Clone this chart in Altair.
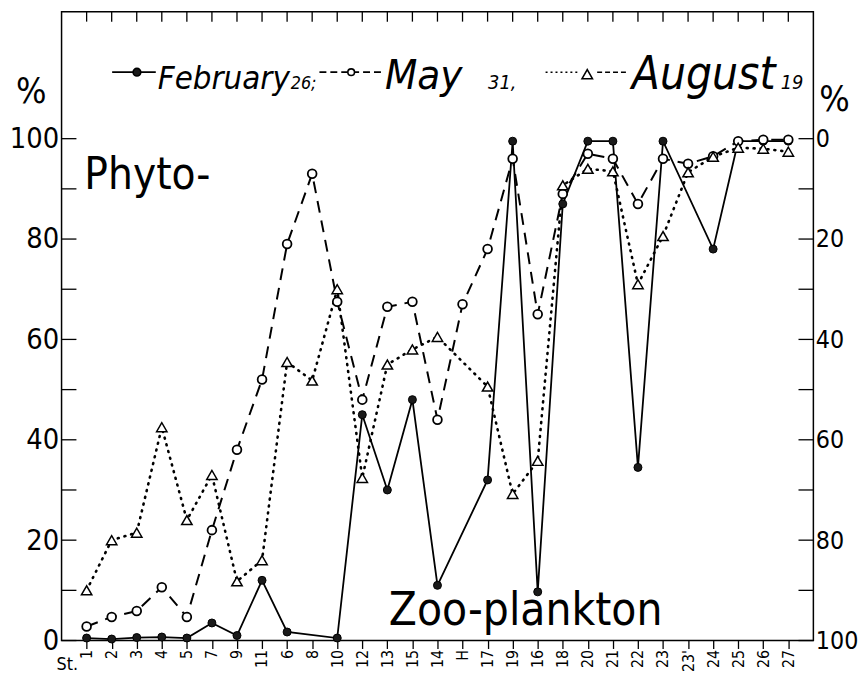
import altair as alt
import pandas as pd

# ---------------- data ----------------
stations = ["1", "2", "3", "4", "5", "7", "9", "11", "6", "8", "10", "12", "13", "15",
            "14", "H", "17", "19", "16", "18", "20", "21", "22", "23", "23'", "24",
            "25", "26", "27"]
feb = [0.5, 0.3, 0.6, 0.7, 0.5, 3.5, 1.0, 12, 1.7, None, 0.5, 45, 30, 48,
       11, None, 32, 99.5, 9.7, 87, 99.5, 99.5, 34.5, 99.5, None, 78,
       99.5, 99.5, 99.5]
may = [2.8, 4.7, 5.9, 10.6, 4.7, 22, 38, 52, 79, 93, 67.5, 48, 66.5, 67.5,
       44, 67, 78, 96, 65, 89, 97, 96, 87, 96, 95, 96.5,
       99.5, 99.8, 99.8]
aug = [10, 20, 21.5, 42.5, 24, 33, 11.8, 16, 55.5, 51.8, 70, 32.4, 55, 58,
       60.5, None, 50.6, 29.2, 35.8, 90.7, 94, 93.5, 71, 80.6, 93.3, 96.4,
       98.2, 98, 97.4]
y_ticks = [0, 10, 20, 30, 40, 50, 60, 70, 80, 90, 100]
y_labels = [0, 20, 40, 60, 80, 100]


def series(vals):
    rows = [(i, v) for i, v in enumerate(vals) if v is not None]
    return pd.DataFrame({"idx": [r[0] for r in rows], "value": [r[1] for r in rows]})


FONT = "DejaVu Sans Condensed, Liberation Sans Narrow, sans-serif"
W, H = 758, 634
YMAX = 125.3
one = pd.DataFrame({"a": [0]})

label_arr = "[" + ",".join("'" + s.replace("'", "\\'") + "'" for s in stations) + "]"

xscale = alt.Scale(domain=[-1, len(stations)], nice=False, zero=False)
x_axis = alt.Axis(title=None, values=list(range(len(stations))),
                  labelExpr=label_arr + "[datum.value]",
                  labelAngle=270, labelFont=FONT, labelFontSize=16, labelColor="black",
                  tickSize=8, tickColor="black", tickWidth=1.3, labelPadding=1,
                  domain=False, grid=False, labelOverlap=False, labelFlush=False)
x_enc = alt.X("idx:Q", scale=xscale, axis=x_axis)
yscale = alt.Scale(domain=[0, YMAX], nice=False, zero=False)
y_plain = alt.Y("value:Q", scale=yscale, axis=None)


def line_layer(vals, **kw):
    return alt.Chart(series(vals)).mark_line(color="black", **kw).encode(x=x_enc, y=y_plain)


feb_line = line_layer(feb, strokeWidth=1.8)
may_line = line_layer(may, strokeWidth=2, strokeDash=[12, 8])
aug_line = line_layer(aug, strokeWidth=2.6, strokeDash=[1, 6], strokeCap="round")

feb_pts = alt.Chart(series(feb)).mark_point(shape="circle", filled=True, size=65,
                                            color="#1a1a1a", stroke="black",
                                            strokeWidth=1, opacity=1).encode(x=x_enc, y=y_plain)
may_pts = alt.Chart(series(may)).mark_point(shape="circle", size=78, fill="white",
                                            fillOpacity=1, stroke="black",
                                            strokeWidth=1.8, opacity=1).encode(x=x_enc, y=y_plain)
aug_pts = alt.Chart(series(aug)).mark_point(shape="triangle-up", size=110, fill="white",
                                            fillOpacity=1, stroke="black",
                                            strokeWidth=1.5, opacity=1).encode(x=x_enc, y=y_plain)

tick_df = pd.DataFrame({"v": y_ticks})
left_ticks = alt.Chart(tick_df).mark_rule(color="black", strokeWidth=1.3).encode(
    y=alt.Y("v:Q", scale=yscale,
            axis=alt.Axis(orient="left", values=y_labels, ticks=False, domain=False,
                          grid=False, title=None, labelFont=FONT, labelFontSize=29,
                          labelPadding=3, labelColor="black")),
    x=alt.value(0), x2=alt.value(15))
right_ticks = alt.Chart(tick_df).mark_rule(color="black", strokeWidth=1.3).encode(
    y=alt.Y("v:Q", scale=yscale,
            axis=alt.Axis(orient="right", values=y_labels, ticks=False, domain=False,
                          grid=False, title=None, labelFont=FONT, labelFontSize=25,
                          labelPadding=2, labelColor="black",
                          labelExpr="'' + (100 - datum.value)")),
    x=alt.value(W - 15), x2=alt.value(W))
top_ticks = alt.Chart(pd.DataFrame({"idx": list(range(len(stations)))})).mark_rule(
    color="black", strokeWidth=1.3).encode(x=x_enc, y=alt.value(0), y2=alt.value(10))


def txt(s, x, y, size, style="normal"):
    return alt.Chart(one).mark_text(text=s, font=FONT, fontSize=size, fontStyle=style,
                                    align="left", baseline="alphabetic",
                                    color="black").encode(x=alt.value(x), y=alt.value(y))


def hrule(x1, x2, y, dash=None, width=1.8):
    kw = {"strokeDash": dash} if dash else {}
    return alt.Chart(one).mark_rule(color="black", strokeWidth=width, **kw).encode(
        x=alt.value(x1), x2=alt.value(x2), y=alt.value(y))


def sym(x, y, shape, fill, size):
    return alt.Chart(one).mark_point(shape=shape, size=size, fill=fill, fillOpacity=1,
                                     stroke="black", strokeWidth=1.6, opacity=1).encode(
        x=alt.value(x), y=alt.value(y))


legend = [
    hrule(51, 95, 61),
    sym(76, 61, "circle", "#1a1a1a", 60),
    txt("February", 97, 78, 33, "italic"),
    txt("26;", 231, 78, 18, "italic"),
    hrule(260, 322, 61, [7, 4]),
    sym(292, 61, "circle", "white", 45),
    txt("May", 326, 78, 42, "italic"),
    txt("31,", 430, 78, 20, "italic"),
    hrule(488, 522, 61, [2, 3], 1.6),
    sym(530, 63, "triangle-up", "white", 110),
    hrule(540, 572, 61, [5, 3], 1.6),
    txt("August", 575, 78, 46, "italic"),
    txt("19", 725, 78, 20, "italic"),
]

annotations = [
    txt("Phyto-", 23, 179, 44),
    txt("Zoo-plankton", 330, 618, 46),
    txt("St.", -5, 664, 18),
    txt("%", -46, 92, 36),
    txt("%", 764, 100, 36),
]

chart = alt.layer(
    left_ticks, right_ticks, top_ticks,
    feb_line, may_line, aug_line,
    feb_pts, may_pts, aug_pts,
    *legend, *annotations,
).resolve_axis(y="independent").properties(
    width=W, height=H,
    autosize=alt.AutoSizeParams(type="none"),
    padding={"left": 54, "top": 1, "right": 46, "bottom": 31},
    background="white",
).configure_view(stroke="black", strokeWidth=1.5)

chart.save("out.html", embed_options={"renderer": "svg", "actions": False})
